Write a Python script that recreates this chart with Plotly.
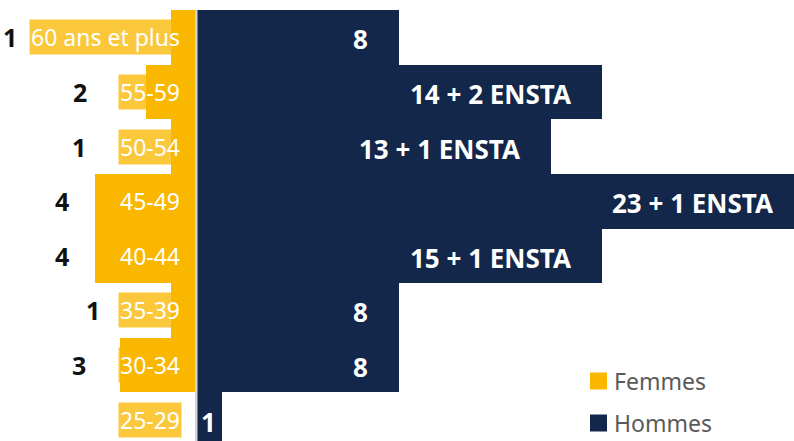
import plotly.graph_objects as go

# Age pyramid: women to the left of zero, men to the right
age_groups = ["60 ans et plus", "55-59", "50-54", "45-49", "40-44", "35-39", "30-34", "25-29"]
femmes = [1, 2, 1, 4, 4, 1, 3, 0]
hommes = [8, 16, 14, 24, 16, 8, 8, 1]
hommes_labels = ["8", "14 + 2 ENSTA", "13 + 1 ENSTA", "23 + 1 ENSTA", "15 + 1 ENSTA", "8", "8", "1"]

YELLOW = "#F9B700"
NAVY = "#13274A"
FONT = "Noto Sans"

X_RANGE = [-7.75, 23.6]
WIDTH, HEIGHT = 794, 441
PX_PER_UNIT = WIDTH / (X_RANGE[1] - X_RANGE[0])

# horizontal pixel nudges for the women's count labels (left of bar / age tag)
count_nudge = [-152, -57, -83, -24, -24, -69, -32, 0]

fig = go.Figure()
fig.add_trace(go.Bar(
    y=age_groups, x=[-v for v in femmes], orientation="h", name="Femmes",
    marker=dict(color=YELLOW, line=dict(width=0)), hoverinfo="skip", showlegend=False,
))
fig.add_trace(go.Bar(
    y=age_groups, x=hommes, orientation="h", name="Hommes",
    marker=dict(color=NAVY, line=dict(width=0)), hoverinfo="skip", showlegend=False,
))

annotations = []
for i, age in enumerate(age_groups):
    # age tag, right-aligned just left of the axis
    annotations.append(dict(
        x=0, y=age, xref="x", yref="y", text=age, showarrow=False,
        xanchor="right", yanchor="middle", xshift=-14, yshift=0,
        font=dict(family=FONT, size=23, color="white"),
        bgcolor="rgba(250,183,0,0.77)", borderpad=1,
    ))
    # women's count
    if femmes[i] > 0:
        annotations.append(dict(
            x=-femmes[i], y=age, xref="x", yref="y", text=f"<b>{femmes[i]}</b>",
            showarrow=False, xanchor="right", yanchor="middle",
            xshift=count_nudge[i], yshift=0,
            font=dict(family=FONT, size=25, color="#111111"),
        ))
    # men's label inside the bar end (padding kept in data units so the
    # label stays visible when the bar runs past the plot edge)
    pad_px = 29 if hommes[i] >= 4 else 4
    annotations.append(dict(
        x=hommes[i] - pad_px / PX_PER_UNIT, y=age, xref="x", yref="y",
        text=f"<b>{hommes_labels[i]}</b>",
        showarrow=False, xanchor="right", yanchor="middle",
        xshift=0, yshift=-2,
        font=dict(family=FONT, size=26, color="white"),
    ))

# legend drawn by hand
legend_items = [("Femmes", YELLOW), ("Hommes", NAVY)]
shapes = [dict(type="line", xref="x", yref="y", x0=0, x1=0, y0=-0.5, y1=7.6,
               line=dict(color="#d4d4d4", width=2.5), layer="above")]
for k, (name, col) in enumerate(legend_items):
    yc = 381 + 42 * k
    shapes.append(dict(type="rect", xref="paper", yref="paper",
                       x0=590 / WIDTH, x1=607 / WIDTH,
                       y0=1 - (yc + 8.5) / HEIGHT, y1=1 - (yc - 8.5) / HEIGHT,
                       fillcolor=col, line=dict(width=0)))
    annotations.append(dict(
        x=612 / WIDTH, y=1 - yc / HEIGHT, xref="paper", yref="paper", text=name,
        showarrow=False, xanchor="left", yanchor="middle",
        font=dict(family=FONT, size=23, color="#5a5a5a"),
    ))

fig.update_layout(
    width=WIDTH, height=HEIGHT, margin=dict(l=0, r=0, t=0, b=0),
    paper_bgcolor="white", plot_bgcolor="white",
    barmode="relative", bargap=0,
    xaxis=dict(range=X_RANGE, visible=False, fixedrange=True),
    yaxis=dict(range=[7.39, -0.683], visible=False, fixedrange=True,
               categoryorder="array", categoryarray=age_groups),
    annotations=annotations, shapes=shapes,
    font=dict(family=FONT),
)

fig.write_html("out.html")
